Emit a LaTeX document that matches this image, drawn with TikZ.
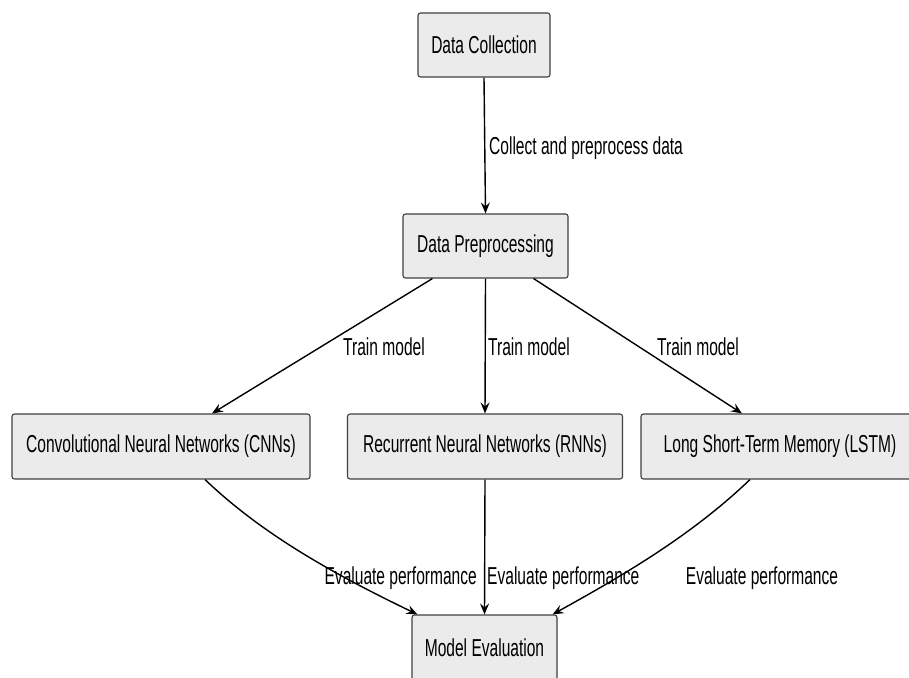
\documentclass[tikz,border=0pt]{standalone}
\usepackage{fontspec}
\setmainfont{Liberation Sans}[FakeStretch=0.635]
\usetikzlibrary{arrows.meta,calc}
\begin{document}
\begin{tikzpicture}[x=1pt,y=1pt,
  box/.style={draw=black!75,line width=1.1pt,fill=black!8,rounded corners=2.5pt,
    inner sep=0pt,font=\fontsize{24.5}{27}\selectfont},
  conn/.style={draw=black,line width=1.4pt,-{Stealth[length=11pt,width=9pt,inset=4pt]}},
  lbl/.style={font=\fontsize{24.5}{27}\selectfont,inner sep=0pt}]
\useasboundingbox (0,0) rectangle (909,677);
\clip (0,0) rectangle (909,677);
\node[box,minimum width=132pt,minimum height=64pt] (dc) at (484,632) {Data Collection};
\node[box,minimum width=165pt,minimum height=64pt] (dp) at (485.5,431) {Data Preprocessing};
\node[box,minimum width=298pt,minimum height=65pt] (cnn) at (161,230.5) {Convolutional Neural Networks (CNNs)};
\node[box,minimum width=275pt,minimum height=65pt] (rnn) at (485,230.5) {Recurrent Neural Networks (RNNs)};
\node[box,minimum width=278pt,minimum height=65pt] (lstm) at (780,230.5) {Long Short-Term Memory (LSTM)};
\node[box,minimum width=145pt,minimum height=66pt] (me) at (484.5,29) {Model Evaluation};
\draw[conn] (dc.south) -- (dp.north);
\draw[conn] ([xshift=30pt]dp.south west) -- ([xshift=51pt]cnn.north);
\draw[conn] (dp.south) -- (rnn.north);
\draw[conn] ([xshift=-35pt]dp.south east) -- ([xshift=-38pt]lstm.north);
\draw[conn] ([xshift=44pt]cnn.south) .. controls (265,140) and (340,100) .. ([xshift=6pt]me.north west);
\draw[conn] (rnn.south) -- (me.north);
\draw[conn] ([xshift=-30pt]lstm.south) .. controls (690,140) and (620,100) .. ([xshift=-5pt]me.north east);
\node[lbl,anchor=west] (l1) at (489,529) {Collect and preprocess data};
\node[lbl] (l2) at (384,330) {Train model};
\node[lbl,anchor=west] (l3) at (488,330) {Train model};
\node[lbl,anchor=west] (l4) at (657,330) {Train model};
\node[lbl,anchor=east] (l5) at (477,99) {Evaluate performance};
\node[lbl,anchor=west] (l6) at (487,99) {Evaluate performance};
\node[lbl] (l7) at (762,99) {Evaluate performance};
\end{tikzpicture}
\end{document}
